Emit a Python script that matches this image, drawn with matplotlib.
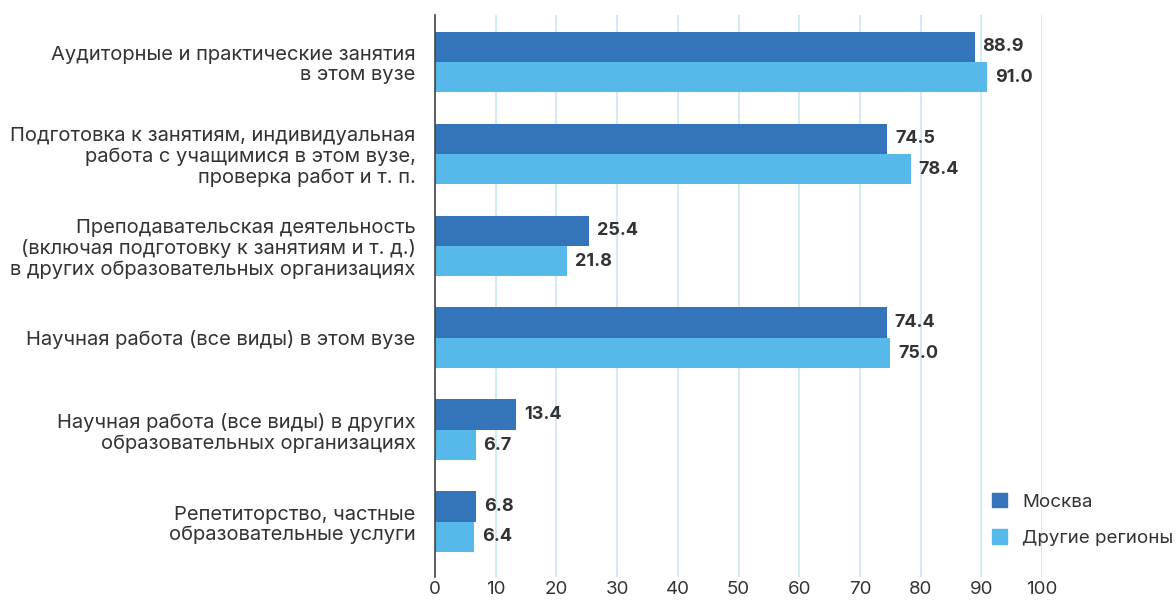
import matplotlib
matplotlib.use('Agg')
import matplotlib.pyplot as plt
from matplotlib.patches import Patch
import numpy as np

categories = [
    'Аудиторные и практические занятия\nв этом вузе',
    'Подготовка к занятиям, индивидуальная\nработа с учащимися в этом вузе,\nпроверка работ и т. п.',
    'Преподавательская деятельность\n(включая подготовку к занятиям и т. д.)\nв других образовательных организациях',
    'Научная работа (все виды) в этом вузе',
    'Научная работа (все виды) в других\nобразовательных организациях',
    'Репетиторство, частные\nобразовательные услуги',
]
moscow = [88.9, 74.5, 25.4, 74.4, 13.4, 6.8]
regions = [91.0, 78.4, 21.8, 75.0, 6.7, 6.4]
series_names = ['Москва', 'Другие регионы']

c_moscow = '#3474bb'
c_regions = '#56b9e9'
text_c = '#333333'

plt.rcParams['font.family'] = ['Inter', 'DejaVu Sans']

fig = plt.figure(figsize=(11.76, 6), dpi=100)
ax = fig.add_axes([435 / 1176, 1 - 577 / 600, (1042 - 435) / 1176, (577 - 15) / 600])

y = np.arange(len(categories))
h = 0.33
ax.barh(y - h / 2, moscow, height=h, color=c_moscow, zorder=3)
ax.barh(y + h / 2, regions, height=h, color=c_regions, zorder=3)

for i in range(len(categories)):
    ax.text(moscow[i] + 1.3, y[i] - h / 2, f'{moscow[i]:.1f}', va='center', ha='left',
            fontsize=13, fontweight='bold', color=text_c)
    ax.text(regions[i] + 1.3, y[i] + h / 2, f'{regions[i]:.1f}', va='center', ha='left',
            fontsize=13, fontweight='bold', color=text_c)

ax.set_xlim(0, 100)
ax.set_ylim(5.6, -0.51)
ax.set_xticks(range(0, 101, 10))
ax.set_yticks(y)
ax.set_yticklabels(categories, fontsize=14.5, color=text_c, linespacing=1.15)
ax.tick_params(axis='y', length=0, pad=14)
ax.tick_params(axis='x', length=0, pad=3, labelsize=13.5, labelcolor=text_c)
ax.grid(axis='x', color='#c8e8f6', linewidth=1.2, zorder=0)

for s in ['top', 'right', 'bottom']:
    ax.spines[s].set_visible(False)
ax.spines['left'].set_color('#444444')
ax.spines['left'].set_linewidth(1.2)
ax.spines['left'].set_zorder(4)

handles = [Patch(color=c_moscow), Patch(color=c_regions)]
fig.legend(handles, series_names, loc='upper left', bbox_to_anchor=(975 / 1176, 1 - 476 / 600),
           frameon=False, fontsize=13.5, labelspacing=1.0, handlelength=0.8, handleheight=0.8,
           handletextpad=0.8, labelcolor=text_c)

fig.savefig('out.png', dpi=100)
